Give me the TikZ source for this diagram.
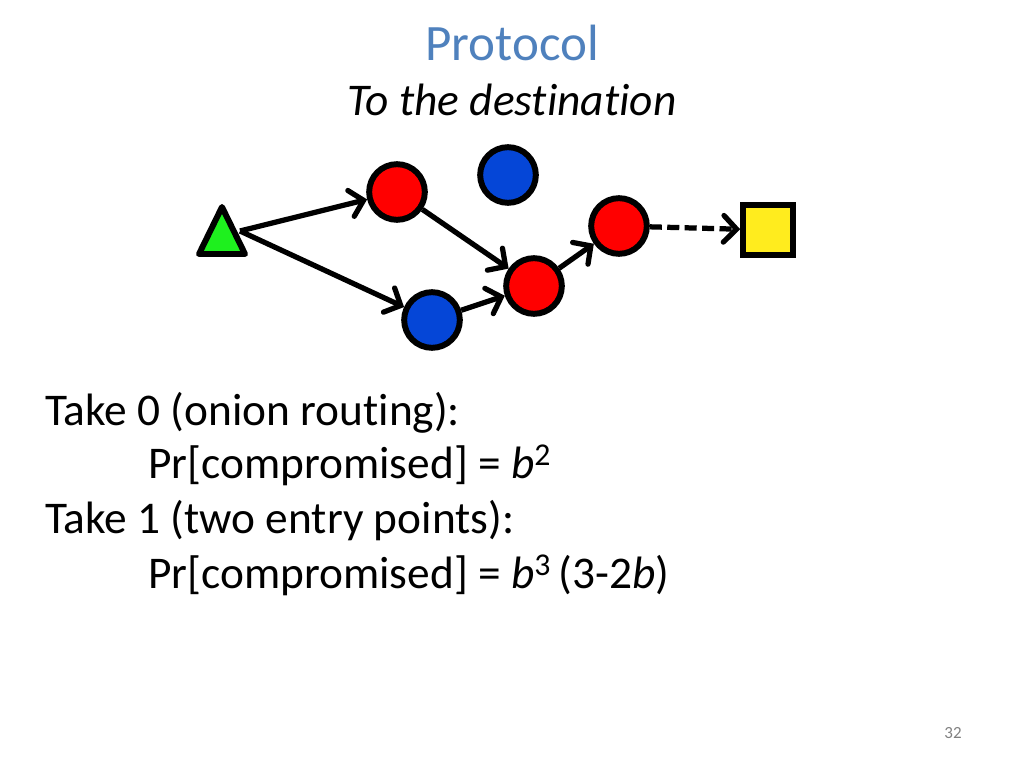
\documentclass[tikz,border=0pt]{standalone}
\usepackage{fontspec}
\setmainfont{Carlito}[Ligatures=NoCommon]
\usetikzlibrary{arrows.meta}
\definecolor{titleblue}{RGB}{79,129,189}
\definecolor{relayred}{RGB}{255,0,0}
\definecolor{relayblue}{RGB}{5,70,215}
\definecolor{srcgreen}{RGB}{30,240,30}
\definecolor{dstyellow}{RGB}{255,236,30}

\begin{document}
\begin{tikzpicture}[x=0.0248cm,y=-0.0248cm,
    relay/.style={circle,draw,line width=4.2pt,inner sep=0pt,minimum size=1.38cm},
    hop/.style={line width=3.7pt,-{Straight Barb[length=3.2mm,width=6.6mm,line cap=round]}},
    body/.style={anchor=base west,inner sep=0pt,font=\fontsize{32}{38}\selectfont}]
  \useasboundingbox (0,0) rectangle (1024,768);

  \node[text=titleblue,font=\fontsize{36}{43}\selectfont,anchor=base] (title) at (512,61) {Protocol};
  \node[font=\fontsize{32}{38}\selectfont\itshape,anchor=base] (subtitle) at (512,116) {To the destination};

  \draw[line width=4.2pt,line join=round,fill=srcgreen] (222,207) -- (245,254) -- (199,254) -- cycle;
  \coordinate (src) at (240,231);

  \node[relay,fill=relayred] (r1) at (397,192) {};
  \node[relay,fill=relayblue] (b1) at (508,175) {};
  \node[relay,fill=relayblue] (b2) at (432,320) {};
  \node[relay,fill=relayred] (r3) at (534,286) {};
  \node[relay,fill=relayred] (r4) at (619,226) {};
  \node[draw,line width=4.2pt,fill=dstyellow,minimum size=1.23cm,inner sep=0pt] (dst) at (768,230) {};

  \draw[hop] (src) -- (r1);
  \draw[hop] (src) -- (b2);
  \draw[hop] (r1) -- (r3);
  \draw[hop] (b2) -- (r3);
  \draw[hop] (r3) -- (r4);
  \draw[hop,dash pattern=on 8.5pt off 3.8pt] (r4) -- (dst);

  \node[body] (take0) at (45,425) {Take 0 (onion routing):};
  \node[body] (pr0) at (148,478) {Pr[compromised] = \textit{b}\textsuperscript{2}};
  \node[body] (take1) at (45,533) {Take 1 (two entry points):};
  \node[body] (pr1) at (148,588) {Pr[compromised] = \textit{b}\textsuperscript{3}\,(3-2\textit{b})};

  \node[text=gray,font=\fontsize{12}{14}\selectfont,anchor=base] (pageno) at (953,738) {32};
\end{tikzpicture}
\end{document}
